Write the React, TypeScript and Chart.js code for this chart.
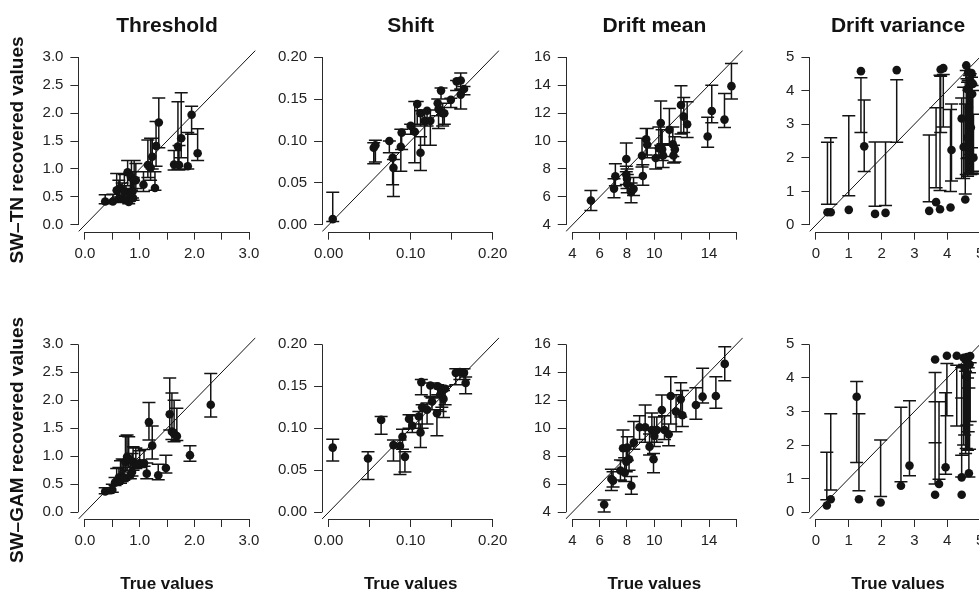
import React, { useEffect, useRef } from 'react';
import { Chart, registerables } from 'chart.js';

Chart.register(...registerables);

const FONT = "'Liberation Sans', Arial, Helvetica, sans-serif";

// ---------- text ----------
const panelTitles = ['Threshold', 'Shift', 'Drift mean', 'Drift variance'];
const rowLabels = ['SW\u2013TN recovered values', 'SW\u2013GAM recovered values'];
const xAxisLabel = 'True values';

// ---------- axes (per column) ----------
const axisRanges = [[0, 3], [0, 0.2], [4, 16], [0, 5]];
const xTickValues = [
  [0, 0.5, 1, 1.5, 2, 2.5, 3],
  [0, 0.05, 0.1, 0.15, 0.2],
  [4, 6, 8, 10, 12, 14, 16],
  [0, 1, 2, 3, 4, 5],
];
const xTickLabels = [
  ['0.0', '', '1.0', '', '2.0', '', '3.0'],
  ['0.00', '', '0.10', '', '0.20'],
  ['4', '6', '8', '10', '', '14', ''],
  ['0', '1', '2', '3', '4', '5'],
];
const yTickValues = xTickValues;
const yTickLabels = [
  ['0.0', '0.5', '1.0', '1.5', '2.0', '2.5', '3.0'],
  ['0.00', '0.05', '0.10', '0.15', '0.20'],
  ['4', '6', '8', '10', '12', '14', '16'],
  ['0', '1', '2', '3', '4', '5'],
];

// ---------- SW-TN: Threshold ----------
const thresholdTN_true = [0.37, 0.51, 0.58, 0.62, 0.64, 0.68, 0.72, 0.75, 0.78, 0.80, 0.83, 0.85, 0.87, 0.88, 0.90, 0.93, 1.07, 1.15, 1.20, 1.23, 1.28, 1.30, 1.35, 1.63, 1.70, 1.72, 1.76, 1.88, 1.95, 2.06];
const thresholdTN_est = [0.42, 0.42, 0.62, 0.47, 0.66, 0.47, 0.60, 0.45, 0.94, 0.41, 0.55, 0.85, 0.60, 0.48, 0.80, 0.80, 0.72, 1.07, 1.02, 1.22, 0.66, 1.41, 1.83, 1.08, 1.40, 1.07, 1.55, 1.05, 1.97, 1.28];
const thresholdTN_lo = [0.38, 0.40, 0.45, 0.42, 0.50, 0.44, 0.48, 0.40, 0.70, 0.38, 0.45, 0.62, 0.48, 0.44, 0.60, 0.65, 0.60, 0.85, 0.80, 1.00, 0.62, 1.05, 1.38, 0.98, 1.00, 0.98, 1.20, 1.00, 1.62, 1.15];
const thresholdTN_hi = [0.54, 0.55, 0.92, 0.80, 0.92, 0.75, 0.90, 0.70, 1.15, 0.65, 0.95, 1.15, 0.95, 0.85, 1.15, 1.10, 0.95, 1.52, 1.55, 1.55, 0.95, 1.85, 2.27, 1.33, 2.20, 1.42, 2.36, 1.65, 2.12, 1.72];

// ---------- SW-TN: Shift ----------
const shiftTN_true = [0.005, 0.055, 0.057, 0.074, 0.078, 0.079, 0.088, 0.089, 0.100, 0.105, 0.108, 0.112, 0.112, 0.117, 0.120, 0.124, 0.133, 0.134, 0.137, 0.139, 0.141, 0.149, 0.156, 0.161, 0.161, 0.165];
const shiftTN_est = [0.007, 0.092, 0.095, 0.100, 0.080, 0.068, 0.093, 0.110, 0.118, 0.111, 0.144, 0.086, 0.133, 0.124, 0.136, 0.124, 0.145, 0.138, 0.160, 0.133, 0.133, 0.149, 0.171, 0.172, 0.155, 0.162];
const shiftTN_lo = [0.004, 0.073, 0.075, 0.086, 0.048, 0.034, 0.064, 0.090, 0.108, 0.074, 0.120, 0.065, 0.118, 0.095, 0.118, 0.095, 0.130, 0.115, 0.150, 0.118, 0.120, 0.140, 0.160, 0.160, 0.138, 0.155];
const shiftTN_hi = [0.039, 0.098, 0.101, 0.100, 0.086, 0.078, 0.114, 0.114, 0.120, 0.147, 0.147, 0.105, 0.136, 0.137, 0.137, 0.137, 0.150, 0.150, 0.163, 0.145, 0.140, 0.151, 0.172, 0.181, 0.162, 0.165];

// ---------- SW-TN: Drift mean ----------
const driftMeanTN_true = [5.36, 7.05, 7.15, 7.95, 7.95, 8.00, 8.02, 8.30, 8.48, 9.10, 9.16, 9.40, 9.48, 10.10, 10.33, 10.47, 10.57, 10.64, 11.10, 11.35, 11.40, 11.50, 11.95, 12.15, 12.40, 13.90, 14.20, 15.13, 15.64];
const driftMeanTN_est = [5.75, 6.60, 7.48, 8.71, 7.60, 7.30, 6.93, 6.34, 6.58, 8.95, 7.50, 10.13, 9.73, 8.78, 9.49, 11.29, 9.40, 8.97, 10.80, 9.77, 8.97, 9.40, 12.57, 11.74, 11.20, 10.32, 12.14, 11.53, 13.92];
const driftMeanTN_lo = [5.04, 5.94, 6.80, 7.80, 6.90, 6.60, 6.30, 5.59, 6.10, 8.15, 6.84, 9.00, 8.80, 8.00, 8.80, 9.70, 8.60, 8.10, 9.80, 8.90, 8.43, 8.50, 10.50, 10.60, 10.25, 9.56, 11.30, 10.96, 13.00];
const driftMeanTN_hi = [6.46, 7.30, 8.38, 9.85, 8.20, 8.00, 7.60, 7.00, 7.40, 10.20, 8.30, 10.90, 10.90, 9.50, 11.00, 12.85, 10.80, 9.80, 12.33, 11.00, 9.70, 10.30, 13.94, 13.10, 12.80, 11.70, 13.98, 13.40, 15.53];

// ---------- SW-TN: Drift variance ----------
const driftVarTN_true = [0.35, 0.45, 1.00, 1.37, 1.47, 1.80, 2.12, 2.46, 3.45, 3.66, 3.78, 3.80, 3.88, 4.10, 4.13, 4.44, 4.50, 4.55, 4.58, 4.60, 4.62, 4.64, 4.66, 4.68, 4.70, 4.72, 4.74, 4.76, 4.78, 4.80];
const driftVarTN_est = [0.38, 0.38, 0.45, 4.58, 2.34, 0.33, 0.36, 4.61, 0.42, 0.68, 0.47, 4.63, 4.67, 0.52, 2.23, 3.17, 2.32, 0.76, 4.75, 4.05, 2.60, 4.55, 3.50, 2.30, 4.30, 2.90, 4.52, 3.90, 4.20, 2.00];
const driftVarTN_lo = [0.62, 0.62, 0.87, 2.75, 1.59, 0.56, 0.58, 2.46, 0.69, 1.11, 1.03, 2.75, 2.92, 1.00, 1.31, 1.38, 1.38, 0.92, 1.50, 1.98, 1.45, 2.00, 1.50, 1.55, 2.10, 1.50, 2.30, 1.55, 1.60, 1.52];
const driftVarTN_hi = [2.46, 2.60, 3.25, 4.38, 3.72, 2.47, 2.47, 4.32, 2.68, 3.49, 4.46, 4.43, 4.48, 3.44, 3.60, 3.78, 4.10, 3.60, 4.60, 4.35, 4.25, 4.30, 4.00, 4.45, 4.50, 4.20, 4.40, 4.15, 4.00, 3.30];

// ---------- SW-GAM: Threshold ----------
const thresholdGAM_true = [0.37, 0.50, 0.55, 0.58, 0.62, 0.65, 0.68, 0.71, 0.74, 0.77, 0.80, 0.83, 0.86, 0.88, 0.93, 1.00, 1.08, 1.13, 1.17, 1.23, 1.34, 1.48, 1.55, 1.59, 1.63, 1.68, 1.92, 2.30];
const thresholdGAM_est = [0.37, 0.40, 0.53, 0.56, 0.62, 0.57, 0.64, 0.62, 0.90, 0.99, 0.95, 0.66, 0.72, 0.90, 0.86, 0.88, 0.88, 0.69, 1.61, 1.19, 0.66, 0.79, 1.75, 1.44, 1.40, 1.36, 1.02, 1.92];
const thresholdGAM_lo = [0.33, 0.36, 0.48, 0.50, 0.55, 0.52, 0.55, 0.57, 0.72, 0.75, 0.80, 0.60, 0.65, 0.75, 0.78, 0.80, 0.82, 0.60, 1.29, 0.95, 0.58, 0.70, 1.47, 1.30, 1.26, 1.28, 0.91, 1.70];
const thresholdGAM_hi = [0.44, 0.50, 0.62, 0.78, 0.80, 0.92, 0.95, 0.94, 1.36, 1.38, 1.35, 0.95, 1.05, 1.17, 1.15, 1.10, 1.12, 0.88, 1.96, 1.54, 0.86, 1.02, 2.40, 2.13, 2.00, 1.86, 1.19, 2.48];

// ---------- SW-GAM: Shift ----------
const shiftGAM_true = [0.005, 0.048, 0.064, 0.079, 0.087, 0.090, 0.093, 0.098, 0.102, 0.110, 0.112, 0.113, 0.114, 0.120, 0.124, 0.126, 0.132, 0.133, 0.136, 0.138, 0.140, 0.142, 0.155, 0.160, 0.165, 0.167];
const shiftGAM_est = [0.077, 0.064, 0.110, 0.080, 0.079, 0.090, 0.066, 0.111, 0.103, 0.114, 0.095, 0.155, 0.125, 0.122, 0.151, 0.132, 0.118, 0.150, 0.140, 0.145, 0.135, 0.147, 0.166, 0.167, 0.166, 0.154];
const shiftGAM_lo = [0.061, 0.039, 0.093, 0.061, 0.045, 0.075, 0.048, 0.100, 0.095, 0.100, 0.077, 0.140, 0.100, 0.105, 0.138, 0.122, 0.091, 0.140, 0.120, 0.125, 0.113, 0.128, 0.152, 0.158, 0.158, 0.141];
const shiftGAM_hi = [0.087, 0.072, 0.114, 0.086, 0.086, 0.099, 0.072, 0.116, 0.115, 0.120, 0.105, 0.158, 0.128, 0.130, 0.154, 0.136, 0.122, 0.152, 0.147, 0.150, 0.145, 0.150, 0.171, 0.171, 0.171, 0.161];

// ---------- SW-GAM: Drift mean ----------
const driftMeanGAM_true = [6.33, 6.86, 6.98, 7.52, 7.71, 7.83, 7.95, 8.02, 8.15, 8.32, 8.50, 8.92, 9.33, 9.65, 9.82, 9.94, 10.00, 10.18, 10.55, 10.74, 11.05, 11.20, 11.59, 11.93, 12.05, 13.04, 13.53, 14.50, 15.15];
const driftMeanGAM_est = [4.55, 6.38, 6.26, 6.98, 8.57, 6.83, 7.62, 8.62, 7.79, 5.90, 8.98, 10.07, 10.07, 8.69, 9.88, 7.79, 9.45, 9.88, 11.31, 9.88, 9.57, 12.31, 11.19, 12.07, 10.93, 11.67, 12.26, 12.31, 14.60];
const driftMeanGAM_lo = [4.02, 5.55, 5.80, 6.30, 7.70, 6.20, 6.90, 7.70, 7.00, 5.29, 8.50, 9.20, 9.00, 8.10, 9.00, 6.83, 8.70, 9.00, 10.00, 9.20, 8.76, 10.30, 9.76, 10.80, 10.12, 10.64, 11.80, 11.43, 13.40];
const driftMeanGAM_hi = [4.88, 7.07, 6.90, 7.74, 9.88, 7.90, 8.50, 9.40, 8.70, 6.55, 10.48, 10.90, 11.67, 9.60, 11.10, 8.20, 10.80, 10.80, 12.38, 10.90, 10.30, 13.69, 12.40, 13.26, 12.70, 12.90, 14.29, 13.69, 15.83];

// ---------- SW-GAM: Drift variance ----------
const driftVarGAM_true = [0.33, 0.45, 1.24, 1.31, 1.97, 2.59, 2.85, 3.63, 3.63, 3.75, 3.95, 3.99, 4.29, 4.44, 4.44, 4.50, 4.53, 4.56, 4.58, 4.60, 4.62, 4.64, 4.66, 4.68, 4.70];
const driftVarGAM_est = [0.20, 0.39, 3.44, 0.39, 0.29, 0.79, 1.39, 4.55, 0.52, 0.84, 1.34, 4.66, 4.66, 1.04, 0.52, 4.60, 4.30, 4.55, 4.05, 4.62, 4.45, 4.60, 1.16, 4.40, 4.65];
const driftVarGAM_lo = [0.37, 0.66, 1.48, 0.64, 0.47, 0.91, 1.09, 2.07, 0.84, 0.98, 1.13, 2.87, 2.57, 1.70, 1.05, 2.00, 2.30, 1.75, 1.90, 2.60, 1.85, 2.40, 1.05, 1.88, 2.70];
const driftVarGAM_hi = [1.79, 2.93, 3.89, 2.93, 2.15, 3.13, 3.32, 4.16, 3.29, 3.29, 3.56, 4.43, 4.38, 4.30, 3.40, 4.35, 4.40, 4.20, 4.35, 4.40, 4.00, 4.30, 3.70, 4.15, 4.45];

const panelData = [
  [
    [thresholdTN_true, thresholdTN_est, thresholdTN_lo, thresholdTN_hi],
    [shiftTN_true, shiftTN_est, shiftTN_lo, shiftTN_hi],
    [driftMeanTN_true, driftMeanTN_est, driftMeanTN_lo, driftMeanTN_hi],
    [driftVarTN_true, driftVarTN_est, driftVarTN_lo, driftVarTN_hi],
  ],
  [
    [thresholdGAM_true, thresholdGAM_est, thresholdGAM_lo, thresholdGAM_hi],
    [shiftGAM_true, shiftGAM_est, shiftGAM_lo, shiftGAM_hi],
    [driftMeanGAM_true, driftMeanGAM_est, driftMeanGAM_lo, driftMeanGAM_hi],
    [driftVarGAM_true, driftVarGAM_est, driftVarGAM_lo, driftVarGAM_hi],
  ],
];

// ---------- layout ----------
const COL_PITCH = 243.67;
const PLOT_LEFT0 = 78.4;
const PLOT_W = 177.2;
const PLOT_H = 181.4;
const ROW_TOP = [0, 287];
const ROW_PLOT_TOP = [50.3, 337.6];
const ROW_LABEL_CENTER = [150, 440];
const CANVAS_W = 274;
const CANVAS_H = [287, 330];
const INK = '#131313';
const AXIS_INK = '#2a2a2a';

function makeErrorBars(xs: number[], lo: number[], hi: number[]) {
  return {
    id: 'errorBars',
    beforeDatasetsDraw(chart: any) {
      const { ctx, scales } = chart;
      const sx = scales.x;
      const sy = scales.y;
      ctx.save();
      ctx.strokeStyle = INK;
      ctx.lineWidth = 1.5;
      ctx.beginPath();
      for (let i = 0; i < xs.length; i++) {
        const px = sx.getPixelForValue(xs[i]);
        const p1 = sy.getPixelForValue(lo[i]);
        const p2 = sy.getPixelForValue(hi[i]);
        ctx.moveTo(px, p1);
        ctx.lineTo(px, p2);
        ctx.moveTo(px - 6.5, p1);
        ctx.lineTo(px + 6.5, p1);
        ctx.moveTo(px - 6.5, p2);
        ctx.lineTo(px + 6.5, p2);
      }
      ctx.stroke();
      ctx.restore();
    },
  };
}

function makeAxisLines(xt: number[], yt: number[]) {
  return {
    id: 'axisLines',
    afterDraw(chart: any) {
      const { ctx, scales, chartArea } = chart;
      ctx.save();
      ctx.strokeStyle = AXIS_INK;
      ctx.lineWidth = 1;
      ctx.beginPath();
      const lx = Math.round(chartArea.left) + 0.5;
      ctx.moveTo(lx, scales.y.getPixelForValue(yt[0]));
      ctx.lineTo(lx, scales.y.getPixelForValue(yt[yt.length - 1]));
      const by = Math.round(chartArea.bottom) + 0.5;
      ctx.moveTo(scales.x.getPixelForValue(xt[0]), by);
      ctx.lineTo(scales.x.getPixelForValue(xt[xt.length - 1]), by);
      ctx.stroke();
      ctx.restore();
    },
  };
}

function Panel({ r, c }: { r: number; c: number }) {
  const ref = useRef<HTMLCanvasElement | null>(null);
  const canvasLeft = Math.round(c * COL_PITCH);
  const canvasTop = ROW_TOP[r];
  const canvasH = CANVAS_H[r];

  useEffect(() => {
    const [xs, ys, lo, hi] = panelData[r][c];
    const [a, b] = axisRanges[c];
    const ext = (b - a) * 0.04;
    const xt = xTickValues[c];
    const yt = yTickValues[c];
    const xl = xTickLabels[c];
    const yl = yTickLabels[c];

    const plotL = PLOT_LEFT0 + c * COL_PITCH - canvasLeft;
    const plotR = plotL + PLOT_W;
    const plotT = ROW_PLOT_TOP[r] - canvasTop;
    const plotB = plotT + PLOT_H;
    const yW = c === 0 ? plotL : 62;
    const xH = r === 0 ? 40 : 85;
    const titleLine = 21 * 1.2;
    const titleGap = 11;
    const padTop = r === 0 ? plotT - titleLine - titleGap : plotT;

    const chart = new Chart(ref.current as HTMLCanvasElement, {
      type: 'scatter',
      data: {
        datasets: [
          {
            type: 'line',
            data: [
              { x: a - ext, y: a - ext },
              { x: b + ext, y: b + ext },
            ],
            borderColor: INK,
            borderWidth: 1,
            pointRadius: 0,
            fill: false,
          } as any,
          {
            type: 'scatter',
            data: xs.map((x, i) => ({ x, y: ys[i] })),
            backgroundColor: INK,
            borderColor: INK,
            borderWidth: 0,
            pointRadius: 4.3,
          },
        ],
      },
      options: {
        animation: false,
        responsive: false,
        maintainAspectRatio: false,
        events: [],
        layout: {
          padding: {
            left: plotL - yW,
            right: CANVAS_W - plotR,
            top: padTop,
            bottom: canvasH - plotB - xH,
          },
        },
        plugins: {
          legend: { display: false },
          tooltip: { enabled: false },
          title: {
            display: r === 0,
            text: panelTitles[c],
            fullSize: false,
            color: INK,
            font: { family: FONT, size: 21, weight: 'bold' },
            padding: { top: 0, bottom: titleGap },
          },
        },
        scales: {
          x: {
            type: 'linear',
            min: a - ext,
            max: b + ext,
            afterBuildTicks: (s: any) => {
              s.ticks = xt.map((v) => ({ value: v }));
            },
            afterFit: (s: any) => {
              s.height = xH;
            },
            ticks: {
              autoSkip: false,
              maxRotation: 0,
              minRotation: 0,
              padding: 5,
              color: '#222',
              font: { family: FONT, size: 15 },
              callback: (_v: any, i: number) => xl[i],
            },
            grid: { drawOnChartArea: false, drawTicks: true, tickLength: 8, color: AXIS_INK, lineWidth: 1 },
            border: { display: false },
            title: {
              display: r === 1,
              text: xAxisLabel,
              color: INK,
              font: { family: FONT, size: 17, weight: 'bold' },
              padding: { top: 0, bottom: 9 },
            },
          },
          y: {
            type: 'linear',
            min: a - ext,
            max: b + ext,
            afterBuildTicks: (s: any) => {
              s.ticks = yt.map((v) => ({ value: v }));
            },
            afterFit: (s: any) => {
              s.width = yW;
            },
            ticks: {
              autoSkip: false,
              padding: 7,
              color: '#222',
              font: { family: FONT, size: 15 },
              callback: (_v: any, i: number) => yl[i],
            },
            grid: { drawOnChartArea: false, drawTicks: true, tickLength: 8, color: AXIS_INK, lineWidth: 1 },
            border: { display: false },
          },
        },
      } as any,
      plugins: [makeErrorBars(xs, lo, hi), makeAxisLines(xt, yt)],
    });
    return () => chart.destroy();
  }, [r, c]);

  return (
    <canvas
      ref={ref}
      width={CANVAS_W}
      height={canvasH}
      style={{ position: 'absolute', left: canvasLeft, top: canvasTop, width: CANVAS_W, height: canvasH }}
    />
  );
}

function RowLabel({ r }: { r: number }) {
  return (
    <div
      style={{
        position: 'absolute',
        left: 17,
        top: ROW_LABEL_CENTER[r],
        transform: 'translate(-50%, -50%) rotate(-90deg)',
        whiteSpace: 'nowrap',
        fontFamily: FONT,
        fontWeight: 'bold',
        fontSize: 19,
        lineHeight: '22px',
        color: INK,
      }}
    >
      {rowLabels[r]}
    </div>
  );
}

export default function App() {
  const cells: React.ReactNode[] = [];
  for (let r = 0; r < 2; r++) {
    for (let c = 0; c < 4; c++) {
      cells.push(<Panel key={`${r}-${c}`} r={r} c={c} />);
    }
  }
  return (
    <div
      style={{
        position: 'fixed',
        left: 0,
        top: 0,
        width: 979,
        height: 594,
        overflow: 'hidden',
        background: '#fff',
      }}
    >
      {cells}
      <RowLabel r={0} />
      <RowLabel r={1} />
    </div>
  );
}
